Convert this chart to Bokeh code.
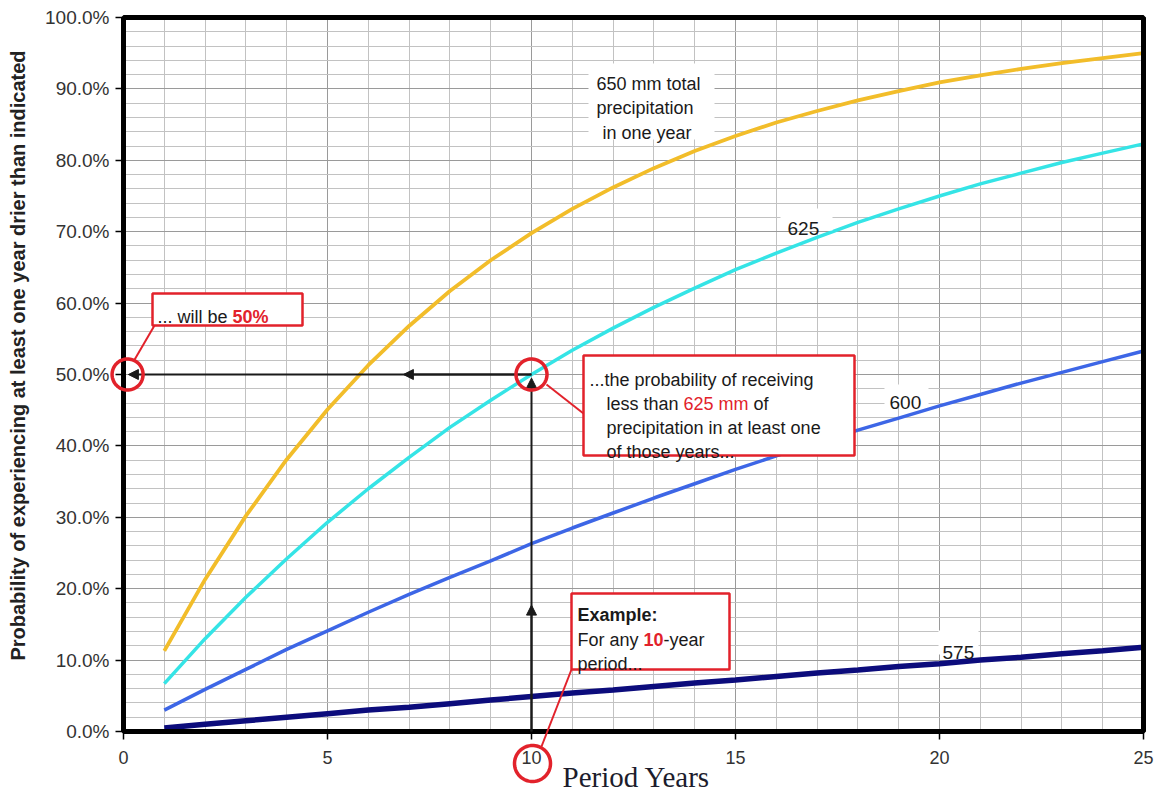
import numpy as np
from bokeh.plotting import figure
from bokeh.models import (Range1d, FixedTicker, PrintfTickFormatter, Label, Grid,
                          BoxAnnotation, PolyAnnotation, Arrow, NormalHead)
from bokeh.embed import file_html
from bokeh.resources import INLINE

# ---------------- data ----------------
years = list(range(1, 26))
p650 = [11.3, 21.3, 30.2, 38.1, 45.1, 51.3, 56.8, 61.7, 66.0, 69.8, 73.2, 76.2, 78.9,
        81.3, 83.4, 85.3, 86.9, 88.4, 89.7, 90.9, 91.9, 92.8, 93.6, 94.3, 95.0]
p625 = [6.7, 13.0, 18.8, 24.2, 29.3, 34.0, 38.4, 42.6, 46.4, 50.0, 53.4, 56.5, 59.4,
        62.1, 64.7, 67.0, 69.2, 71.3, 73.2, 75.0, 76.7, 78.2, 79.7, 81.0, 82.3]
p600 = [3.0, 5.9, 8.7, 11.5, 14.1, 16.7, 19.2, 21.6, 23.9, 26.3, 28.5, 30.6, 32.7,
        34.7, 36.7, 38.6, 40.4, 42.2, 43.9, 45.6, 47.2, 48.8, 50.3, 51.8, 53.3]
p575 = [0.5, 1.0, 1.5, 2.0, 2.5, 3.0, 3.4, 3.9, 4.4, 4.9, 5.4, 5.8, 6.3, 6.8, 7.2,
        7.7, 8.2, 8.6, 9.1, 9.5, 10.0, 10.4, 10.9, 11.3, 11.8]
x_major = [0, 5, 10, 15, 20, 25]
x_minor = list(range(0, 26))
y_major = [0, 10, 20, 30, 40, 50, 60, 70, 80, 90, 100]
y_minor = list(range(0, 101, 2))
example_year = 10
example_prob = 50
arrow_mid_x = 6.86
arrow_mid_y = 17.7

# ---------------- layout ----------------
W, H = 1163, 791
ML, MR, MT, MB = 123, 20, 17, 60       # where the data area sits in the picture
X0, X1, Y0, Y1 = 0, 25, 0, 100
sx = (W - ML - MR) / (X1 - X0)
sy = (H - MT - MB) / (Y1 - Y0)


def px2x(px):
    return X0 + (px - ML) / sx


def px2y(py):
    return Y0 + (H - MB - py) / sy


RED = "#E2222B"
BLACK = "#1a1a1a"
FONT = "Liberation Sans"

# the frame fills the whole canvas; the axes are pinned at 0 so that the
# call-outs in the margins are not clipped
p = figure(width=W, height=H,
           x_range=Range1d(px2x(0), px2x(W)), y_range=Range1d(px2y(H), px2y(0)),
           output_backend="svg", toolbar_location=None,
           min_border=0, min_border_left=0, min_border_right=0, min_border_top=0,
           min_border_bottom=0, background_fill_color="white",
           border_fill_color="white")
p.outline_line_color = None

p.xaxis.ticker = FixedTicker(ticks=x_major, minor_ticks=x_minor)
p.yaxis.ticker = FixedTicker(ticks=y_major, minor_ticks=y_minor)
p.yaxis.formatter = PrintfTickFormatter(format="%.1f%%")
p.xaxis.fixed_location = Y0
p.yaxis.fixed_location = X0
p.xaxis.bounds = (X0, X1)
p.yaxis.bounds = (Y0, Y1)
for ax in (p.xaxis, p.yaxis):
    ax.axis_line_color = "black"
    ax.axis_line_width = 5
    ax.major_tick_line_color = "black"
    ax.major_tick_line_width = 1.5
    ax.major_tick_out = 8
    ax.major_tick_in = 0
    ax.minor_tick_line_color = None
    ax.major_label_text_font = FONT
    ax.major_label_text_color = "#333333"
p.xaxis.major_label_text_font_size = "18px"
p.yaxis.major_label_text_font_size = "19px"
p.xaxis.major_label_standoff = 11
p.yaxis.major_label_standoff = 6

p.xgrid.bounds = (X0, X1)
p.ygrid.bounds = (Y0, Y1)
has_cross = "cross_bounds" in Grid.properties()
if has_cross:
    p.xgrid.cross_bounds = (Y0, Y1)
    p.ygrid.cross_bounds = (X0, X1)
for g in (p.xgrid, p.ygrid):
    g.grid_line_color = "#9a9a9a"
    g.grid_line_width = 1
    g.minor_grid_line_color = "#c2c2c2"
    g.minor_grid_line_width = 1

# white margins over any grid stubs outside the data area
for kw in (dict(right=X0), dict(left=X1), dict(top=Y0), dict(bottom=Y1)):
    p.add_layout(BoxAnnotation(fill_color="white", fill_alpha=1, line_color=None,
                               level="underlay", **kw))

# ---------------- curves ----------------
p.line(years, p650, line_color="#F2BD2A", line_width=3.8)
p.line(years, p625, line_color="#35E4E6", line_width=3.5)
p.line(years, p600, line_color="#3D66E6", line_width=3.5)
p.line(years, p575, line_color="#0C0C7C", line_width=5.5)

# frame border (top / right)
p.add_layout(BoxAnnotation(left=X0, right=X1, bottom=Y0, top=Y1, fill_alpha=0,
                           line_color="black", line_width=5, line_alpha=1))

# ---------------- text helpers ----------------
REG = {' ': 278, '.': 278, ':': 278, '-': 333, '%': 889, 'E': 667, 'F': 611,
       'a': 556, 'b': 556, 'c': 500, 'd': 556, 'e': 556, 'f': 278, 'g': 556, 'h': 556,
       'i': 222, 'j': 222, 'k': 500, 'l': 222, 'm': 833, 'n': 556, 'o': 556, 'p': 556,
       'q': 556, 'r': 333, 's': 500, 't': 278, 'u': 556, 'v': 500, 'w': 722, 'x': 500,
       'y': 500, 'z': 500}
BOLD = {' ': 278, '.': 278, ':': 333, '-': 333, '%': 889, 'E': 667, 'F': 611,
        'a': 556, 'b': 611, 'c': 556, 'd': 611, 'e': 556, 'f': 333, 'g': 611, 'h': 611,
        'i': 278, 'j': 278, 'k': 556, 'l': 278, 'm': 889, 'n': 611, 'o': 611, 'p': 611,
        'q': 611, 'r': 389, 's': 556, 't': 333, 'u': 611, 'v': 556, 'w': 778, 'x': 556,
        'y': 556, 'z': 500}


def tw(s, size, bold=False):
    t = BOLD if bold else REG
    return sum(t.get(c, 556) for c in s) * size / 1000.0


def add_line(xpx, ypx, segs, size=18):
    off = 0.0
    for text, color, bold in segs:
        lead = len(text) - len(text.lstrip(' '))
        off += tw(' ' * lead, size, bold)
        body = text.strip(' ')
        p.add_layout(Label(x=px2x(xpx), y=px2y(ypx), x_offset=off, text=body,
                           text_color=color, text_font=FONT,
                           text_font_size=f"{size}px",
                           text_font_style="bold" if bold else "normal",
                           text_align="left", text_baseline="alphabetic"))
        off += tw(text.lstrip(' '), size, bold)


def white_box(l, r, t, b):
    p.add_layout(BoxAnnotation(left=px2x(l), right=px2x(r), top=px2y(t), bottom=px2y(b),
                               fill_color="white", fill_alpha=1, line_color=None))


def callout_box(l, r, t, b):
    p.add_layout(BoxAnnotation(left=px2x(l), right=px2x(r), top=px2y(t), bottom=px2y(b),
                               fill_color="white", fill_alpha=1, line_color=RED,
                               line_width=2.5, line_alpha=1))


def red_line(x1, y1, x2, y2):
    p.add_layout(Arrow(x_start=px2x(x1), y_start=px2y(y1), x_end=px2x(x2), y_end=px2y(y2),
                       end=None, line_color=RED, line_width=2))


def red_circle(cx, cy, r_px):
    a = np.linspace(0, 2 * np.pi, 72)
    xs = list(cx + r_px / sx * np.cos(a))
    ys = list(cy + r_px / sy * np.sin(a))
    p.add_layout(PolyAnnotation(xs=xs, ys=ys, fill_alpha=0, line_color=RED,
                                line_width=3.5, line_alpha=1))


# ---------------- curve labels ----------------
white_box(588, 714, 63, 139)
add_line(596, 83, [("650 mm total", BLACK, False)], 18)
add_line(596, 107, [("precipitation", BLACK, False)], 18)
add_line(602, 132, [("in one year", BLACK, False)], 18)
white_box(780, 832, 208, 230)
add_line(787, 228, [("625", BLACK, False)], 19)
white_box(884, 928, 384, 406)
add_line(889, 402, [("600", BLACK, False)], 19)
white_box(938, 978, 630, 654)
add_line(942, 652, [("575", BLACK, False)], 19)


# ---------------- black guide arrows ----------------
def head():
    return NormalHead(size=10, fill_color=BLACK, line_color=BLACK, line_width=1)


p.add_layout(Arrow(x_start=example_year, y_start=example_prob, x_end=0.12,
                   y_end=example_prob, end=head(), line_color=BLACK, line_width=2))
p.add_layout(Arrow(x_start=example_year, y_start=example_prob, x_end=arrow_mid_x,
                   y_end=example_prob, end=head(), line_color=BLACK, line_width=2))
p.add_layout(Arrow(x_start=example_year, y_start=0, x_end=example_year,
                   y_end=example_prob - 0.5, end=head(), line_color=BLACK, line_width=2))
p.add_layout(Arrow(x_start=example_year, y_start=0, x_end=example_year,
                   y_end=arrow_mid_y, end=head(), line_color=BLACK, line_width=2))

# ---------------- red callouts ----------------
red_circle(0.1, example_prob, 15.5)
red_circle(example_year, example_prob, 15.5)
red_circle(px2x(532), px2y(763), 18)

red_line(154, 325, 133, 361)
callout_box(152, 302, 293, 325)
add_line(157, 316, [("... will be ", BLACK, False), ("50%", RED, True)], 18)

red_line(546, 384, 583, 413)
callout_box(583, 854, 355, 455)
add_line(589, 379, [("...the probability of receiving", BLACK, False)], 18)
add_line(606, 403, [("less than ", BLACK, False), ("625 mm", RED, False), (" of", BLACK, False)], 18)
add_line(606, 427, [("precipitation in at least one", BLACK, False)], 18)
add_line(606, 451, [("of those years...", BLACK, False)], 18)

red_line(571, 669, 541, 746)
callout_box(571, 729, 593, 669)
add_line(577, 614, [("Example:", BLACK, True)], 18)
add_line(577, 639, [("For any ", BLACK, False), ("10", RED, True), ("-year", BLACK, False)], 18)
add_line(577, 663, [("period...", BLACK, False)], 18)

# ---------------- axis titles ----------------
p.add_layout(Label(x=px2x(17), y=px2y(355),
                   text="Probability of experiencing at least one year drier than indicated",
                   angle=90, angle_units="deg", text_align="center", text_baseline="middle",
                   text_font=FONT, text_font_size="20px", text_font_style="bold",
                   text_color="#222222"))
p.add_layout(Label(x=px2x(562), y=px2y(776), text="Period Years", text_align="left",
                   text_baseline="alphabetic", text_font="Liberation Serif",
                   text_font_size="29px", text_color="#1c1c2c"))

open("out.html", "w").write(file_html(p, INLINE))
